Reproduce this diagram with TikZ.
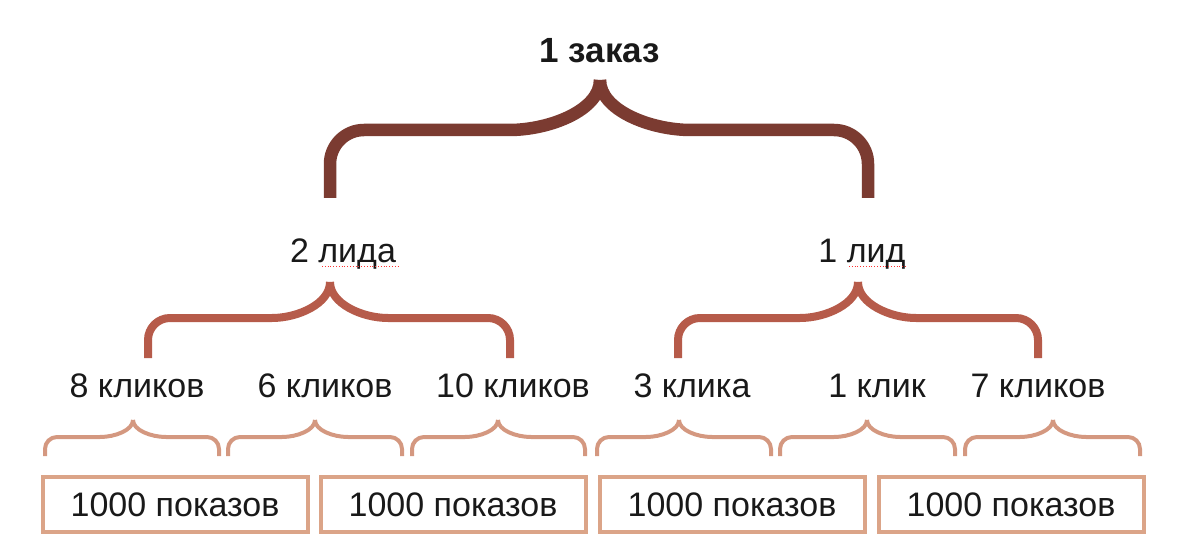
\documentclass[tikz,border=0pt]{standalone}
\usepackage{fontspec}
\setmainfont{Liberation Sans}
\usepackage{tikz}
\definecolor{darkbrace}{HTML}{7B3B31}
\definecolor{midbrace}{HTML}{B65B4A}
\definecolor{lightbrace}{HTML}{D49880}
\definecolor{boxline}{HTML}{DBA488}
% #1 cusp x, #2 cusp y, #3 left x, #4 right x, #5 bar y, #6 foot y, #7 corner radius, #8 curve width
\newcommand{\curlybrace}[8]{%
  \draw[rounded corners=#7] (#3,#6) -- (#3,#5) -- ({#1-#8},#5) [sharp corners]
     .. controls ({#1-0.4*#8},#5) and (#1,{#5-0.4*(#5-#2)}) .. (#1,#2);
  \draw[rounded corners=#7] (#4,#6) -- (#4,#5) -- ({#1+#8},#5) [sharp corners]
     .. controls ({#1+0.4*#8},#5) and (#1,{#5-0.4*(#5-#2)}) .. (#1,#2);
}

\begin{document}
\begin{tikzpicture}[x=1pt,y=-1pt,
    label/.style={anchor=base,inner sep=0pt,text=black!90,font=\fontsize{34}{40}\selectfont},
    showbox/.style={draw=boxline,line width=4pt,minimum width=265pt,minimum height=55pt,
      inner sep=0pt,text=black!90,font=\fontsize{34}{40}\selectfont}]
    \useasboundingbox (0,0) rectangle (1200,540);
    % texts
    \node[label,font=\fontsize{35}{42}\selectfont\bfseries] (order) at (600,63) {1 заказ};
    \node[label] (lead1) at (343,262) {2 лида};
    \node[label] (lead2) at (862,262) {1 лид};
    \foreach \x/\t [count=\i] in {137/8 кликов,325/6 кликов,513/10 кликов,692/3 клика,877/1 клик,1038/7 кликов}
      \node[label] (click\i) at (\x,397) {\t};
    \foreach \x [count=\i] in {175,453,732,1011}
      \node[showbox] (show\i) at (\x,504.5) {1000 показов};
    % spelling marks
    \draw[red!80,dotted,line width=0.8pt] (322,266) -- (398,266);
    \draw[red!80,dotted,line width=0.8pt] (849,266) -- (907,266);
    % braces
      \begin{scope}[darkbrace,line width=12.5pt]
    \curlybrace{600}{80}{330}{868}{130}{198}{34}{125}
      \end{scope}
      \begin{scope}[midbrace,line width=8pt]
    \curlybrace{330}{282}{148}{510}{318}{358}{22}{80}
    \curlybrace{858}{282}{678}{1038}{318}{358}{22}{80}
      \end{scope}
      \begin{scope}[lightbrace,line width=4pt]
    \foreach \c/\l/\r in {133/45/219,315/228/402,498/412/585,679/597/771,867/780/955,1053/965/1140}
      {\curlybrace{\c}{420}{\l}{\r}{437}{456}{12}{45}}
      \end{scope}
    \end{tikzpicture}
\end{document}
